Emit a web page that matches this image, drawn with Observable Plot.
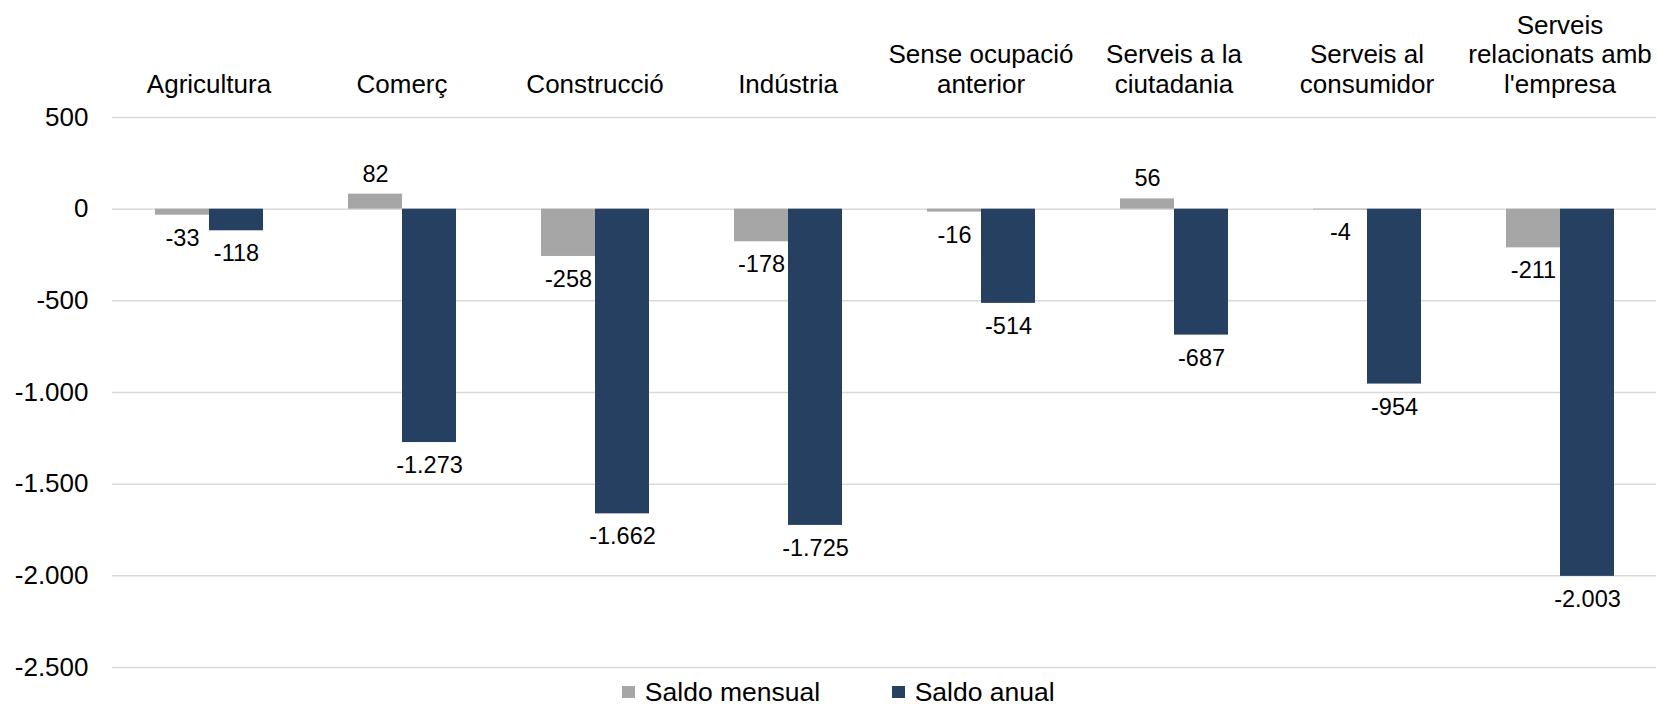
<!DOCTYPE html>
<html>
<head>
<meta charset="utf-8">
<script src="https://cdn.jsdelivr.net/npm/d3@7"></script>
<script src="https://cdn.jsdelivr.net/npm/@observablehq/plot@0.6"></script>
<style>
  html, body { margin: 0; padding: 0; background: #fff; overflow: hidden; }
  #chart { width: 1657px; }
  .legend { display: flex; justify-content: center; align-items: center; height: 22px; line-height: 22px; padding-left: 20px; font-family: 'Liberation Sans', Arial, sans-serif; font-size: 26.5px; color: #000; }
  .legend .item { display: flex; align-items: center; margin: 0 36px; height: 22px; }
  .legend .sw { width: 12.5px; height: 12.5px; margin-right: 10px; }
</style>
</head>
<body>
<div id="chart"></div>
<script>
const categories = ["Agricultura", "Comerç", "Construcció", "Indústria", "Sense ocupació anterior", "Serveis a la ciutadania", "Serveis al consumidor", "Serveis relacionats amb l'empresa"];
const categoryLabels = ["Agricultura", "Comerç", "Construcció", "Indústria", "Sense ocupació\nanterior", "Serveis a la\nciutadania", "Serveis al\nconsumidor", "Serveis\nrelacionats amb\nl'empresa"];
const series = ["Saldo mensual", "Saldo anual"];
const saldoMensual = [-33, 82, -258, -178, -16, 56, -4, -211];
const saldoAnual = [-118, -1273, -1662, -1725, -514, -687, -954, -2003];
const yTicks = [500, 0, -500, -1000, -1500, -2000, -2500];
const colors = ["#a6a6a6", "#264061"];

const fmt = d3.formatLocale({decimal: ",", thousands: ".", grouping: [3], currency: ["", "€"], minus: "-"}).format(",d");

const data = categories.flatMap((c, i) => [
  {cat: c, serie: series[0], value: saldoMensual[i]},
  {cat: c, serie: series[1], value: saldoAnual[i]}
]);

const chart = Plot.plot({
  width: 1657,
  height: 681,
  marginTop: 117,
  marginBottom: 14,
  marginLeft: 111,
  marginRight: 0,
  style: {fontFamily: "'Liberation Sans', Arial, sans-serif", fontSize: "26px", color: "#000", background: "#fff", overflow: "visible"},
  fx: {domain: categories, padding: 0, label: null},
  x: {domain: series, paddingInner: 0, paddingOuter: 0.757, axis: null},
  y: {domain: [-2500, 500]},
  color: {domain: series, range: colors},
  marks: [
    Plot.ruleY(yTicks, {stroke: "#d9d9d9", strokeWidth: 1.5}),
    Plot.barY(data, {fx: "cat", x: "serie", y: "value", fill: "serie"}),
    Plot.text(data.filter(d => d.value < 0), {fx: "cat", x: "serie", y: "value", text: d => fmt(d.value), dy: 23, fontSize: 23.5, fill: "#000"}),
    Plot.text(data.filter(d => d.value >= 0), {fx: "cat", x: "serie", y: "value", text: d => fmt(d.value), dy: -20, fontSize: 23.5, fill: "#000"}),
    Plot.axisY(yTicks, {tickSize: 0, tickPadding: 24, tickFormat: fmt, fontSize: 26, label: null}),
    Plot.axisFx({anchor: "top", tickSize: 0, tickPadding: 25, fontSize: 26, lineHeight: 1.13, tickFormat: c => categoryLabels[categories.indexOf(c)], label: null})
  ]
});
document.getElementById("chart").appendChild(chart);

const legend = document.createElement("div");
legend.className = "legend";
series.forEach((s, i) => {
  const item = document.createElement("div");
  item.className = "item";
  const sw = document.createElement("span");
  sw.className = "sw";
  sw.style.background = colors[i];
  const label = document.createElement("span");
  label.textContent = s;
  item.appendChild(sw);
  item.appendChild(label);
  legend.appendChild(item);
});
document.getElementById("chart").appendChild(legend);
</script>
</body>
</html>
